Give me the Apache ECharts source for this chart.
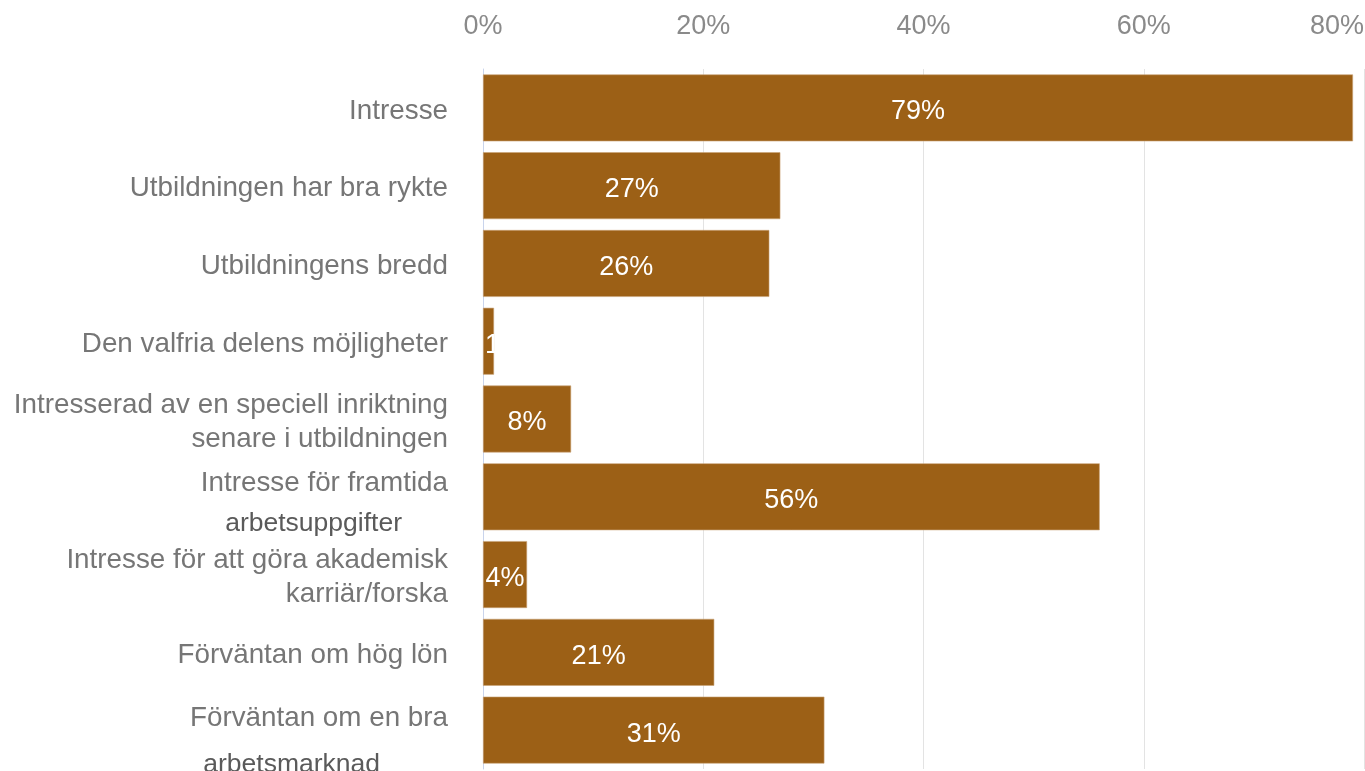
<!DOCTYPE html>
<html><head><meta charset="utf-8">
<script src="https://cdn.jsdelivr.net/npm/echarts@6/dist/echarts.min.js"></script>
<style>html,body{margin:0;padding:0;background:#fff;}#c{width:1365px;height:771px;}</style>
</head><body><div id="c"></div>
<script>
const categories = [
  "Intresse",
  "Utbildningen har bra rykte",
  "Utbildningens bredd",
  "Den valfria delens möjligheter",
  "Intresserad av en speciell inriktning\nsenare i utbildningen",
  "Intresse för framtida|arbetsuppgifter",
  "Intresse för att göra akademisk\nkarriär/forska",
  "Förväntan om hög lön",
  "Förväntan om en bra|arbetsmarknad"
];
const values = [79, 27, 26, 1, 8, 56, 4, 21, 31];
const xTicks = [0, 20, 40, 60, 80];

const seriesData = values.map(function (v) {
  if (v < 3) return { value: v, label: { position: 'insideLeft', distance: 2 } };
  return v;
});

const chart = echarts.init(document.getElementById('c'));
chart.setOption({
  animation: false,
  textStyle: { fontFamily: 'Liberation Sans, Arial, sans-serif' },
  grid: { left: 483, right: 1, top: 69, bottom: 2, containLabel: false, outerBoundsMode: 'none' },
  xAxis: {
    type: 'value', position: 'top', min: xTicks[0], max: xTicks[xTicks.length - 1], interval: 20,
    axisLine: { show: false }, axisTick: { show: false },
    axisLabel: { formatter: '{value}%', color: '#8a8a8a', fontSize: 27, margin: 29, alignMaxLabel: 'right' },
    splitLine: { lineStyle: { color: '#e3e3e3', width: 1 } }
  },
  yAxis: {
    type: 'category', data: categories, inverse: true,
    axisLine: { show: true, lineStyle: { color: '#c9d4ec', width: 1 } },
    axisTick: { show: false },
    axisLabel: {
      color: '#767676', fontSize: 27.8, margin: 35, lineHeight: 34, align: 'right',
      padding: [6, 0, 0, 0],
      formatter: function (v) {
        if (v.indexOf('|') >= 0) {
          const p = v.split('|');
          if (p[0].indexOf('framtida') >= 0) return '{a|' + p[0] + '}\n{b|' + p[1] + '}';
          return '{c|' + p[0] + '}\n{d|' + p[1] + '}\n{e| }';
        }
        return v;
      },
      rich: {
        a: { color: '#767676', fontSize: 27.8, lineHeight: 48, align: 'right' },
        b: { color: '#5a5a5a', fontSize: 26.5, lineHeight: 32, align: 'right', padding: [0, 46, 0, 0] },
        c: { color: '#767676', fontSize: 27.8, lineHeight: 76, align: 'right' },
        d: { color: '#5a5a5a', fontSize: 26.5, lineHeight: 18, align: 'right', padding: [0, 68, 0, 0] },
        e: { fontSize: 1, lineHeight: 12, align: 'right' }
      }
    }
  },
  series: [{
    type: 'bar', data: seriesData, barCategoryGap: '14%',
    itemStyle: { color: '#9c6016', borderColor: '#c9a377', borderWidth: 0.6 },
    label: { show: true, position: 'inside', formatter: '{c}%', color: '#ffffff', fontSize: 27, offset: [0, 4] }
  }]
});
</script></body></html>
